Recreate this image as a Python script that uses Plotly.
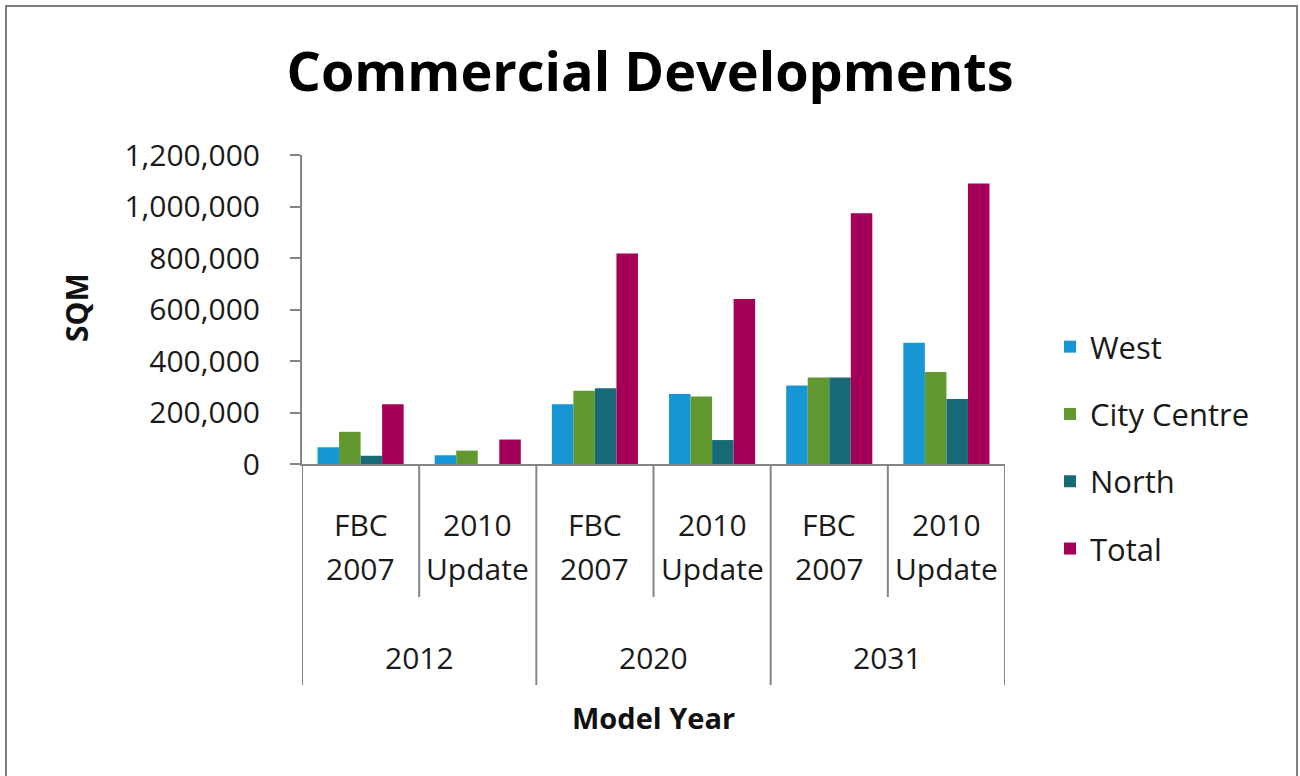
import plotly.graph_objects as go

# Model years and the two forecast scenarios run for each year
model_years = ["2012", "2020", "2031"]
scenarios = [["FBC", "2007"], ["2010", "Update"]]

# Floor space (SQM) by area, one value per year/scenario column
west = [65000, 34000, 232000, 272000, 305000, 471000]
city_centre = [125000, 52000, 284000, 262000, 336000, 357000]
north = [32000, 0, 294000, 93000, 336000, 252000]
total = [232000, 95000, 817000, 641000, 974000, 1089000]

series = [
    ("West", west, "#1796d6"),
    ("City Centre", city_centre, "#61982f"),
    ("North", north, "#196a78"),
    ("Total", total, "#a4005a"),
]

n_cols = len(model_years) * len(scenarios)
xpos = list(range(n_cols))

FONT = "Open Sans"
AXIS_GREY = "#858585"

fig = go.Figure()
for i, (name, vals, color) in enumerate(series):
    fig.add_trace(go.Bar(
        x=xpos, y=vals, name=name, marker_color=color,
        marker_line_width=0, legendgroup=name,
    ))

# Plot area in pixels, used to place decorations outside the axes
L, R, T, B = 302, 1005, 155, 464
W_PX, H_PX = R - L, B - T


def px_x(p):
    return (p - L) / W_PX


def px_y(p):
    return (B - p) / H_PX


shapes = []
# Dividers between scenario columns and between model-year groups
for k in range(n_cols + 1):
    xb = k - 0.5
    is_group_edge = k % len(scenarios) == 0
    shapes.append(dict(
        type="line", xref="x", yref="paper", x0=xb, x1=xb,
        y0=0, y1=px_y(685) if is_group_edge else px_y(597),
        line=dict(color=AXIS_GREY, width=2),
    ))
# Frame around the whole chart
shapes.append(dict(
    type="rect", xref="paper", yref="paper",
    x0=px_x(6), x1=px_x(1297), y0=px_y(790), y1=px_y(6),
    line=dict(color="#7f7f7f", width=2), fillcolor="rgba(0,0,0,0)", layer="below",
))

annotations = []
# Scenario labels (two lines each) under every column
for c in range(n_cols):
    first, second = scenarios[c % len(scenarios)]
    for text, ypx in ((first, 524), (second, 568)):
        annotations.append(dict(
            x=c, y=px_y(ypx), xref="x", yref="paper", text=text,
            showarrow=False, xanchor="center", yanchor="middle",
            font=dict(family=FONT, size=30, color="#1a1a1a"),
        ))
# Model-year labels centred under each pair of columns
for g, yr in enumerate(model_years):
    annotations.append(dict(
        x=g * len(scenarios) + (len(scenarios) - 1) / 2, y=px_y(657),
        xref="x", yref="paper", text=yr, showarrow=False,
        xanchor="center", yanchor="middle",
        font=dict(family=FONT, size=30, color="#1a1a1a"),
    ))
# Axis titles
annotations.append(dict(
    x=0.5, y=px_y(717), xref="paper", yref="paper", text="<b>Model Year</b>",
    showarrow=False, xanchor="center", yanchor="middle",
    font=dict(family=FONT, size=29, color="#111111"),
))
annotations.append(dict(
    x=px_x(76), y=px_y(308), xref="paper", yref="paper", text="<b>SQM</b>",
    showarrow=False, xanchor="center", yanchor="middle", textangle=-90,
    font=dict(family=FONT, size=30, color="#111111"),
))

fig.update_layout(
    width=1300, height=776,
    margin=dict(l=L, r=1300 - R, t=T, b=776 - B, pad=0),
    paper_bgcolor="white", plot_bgcolor="white",
    barmode="group", bargap=0.265, bargroupgap=0,
    title=dict(
        text="<b>Commercial Developments</b>",
        x=0.5, xanchor="center", y=1 - 72 / 776, yanchor="middle",
        font=dict(family=FONT, size=54, color="#000000"),
    ),
    xaxis=dict(
        range=[-0.5, n_cols - 0.5], showticklabels=False, showgrid=False,
        zeroline=False, showline=True, linecolor=AXIS_GREY, linewidth=2,
        ticks="",
    ),
    yaxis=dict(
        range=[0, 1200000], tickvals=list(range(0, 1200001, 200000)),
        tickformat=",d", showgrid=False, zeroline=False,
        showline=True, linecolor=AXIS_GREY, linewidth=2,
        ticks="outside", ticklen=10, tickwidth=2, tickcolor=AXIS_GREY,
        ticklabelstandoff=24,
        tickfont=dict(family=FONT, size=30, color="#1a1a1a"),
    ),
    legend=dict(
        x=px_x(1050), y=px_y(448), xanchor="left", yanchor="middle",
        traceorder="grouped", tracegroupgap=24,
        font=dict(family=FONT, size=31, color="#1a1a1a"),
        bgcolor="rgba(0,0,0,0)",
    ),
    shapes=shapes,
    annotations=annotations,
    showlegend=True,
)

fig.write_html("out.html")
